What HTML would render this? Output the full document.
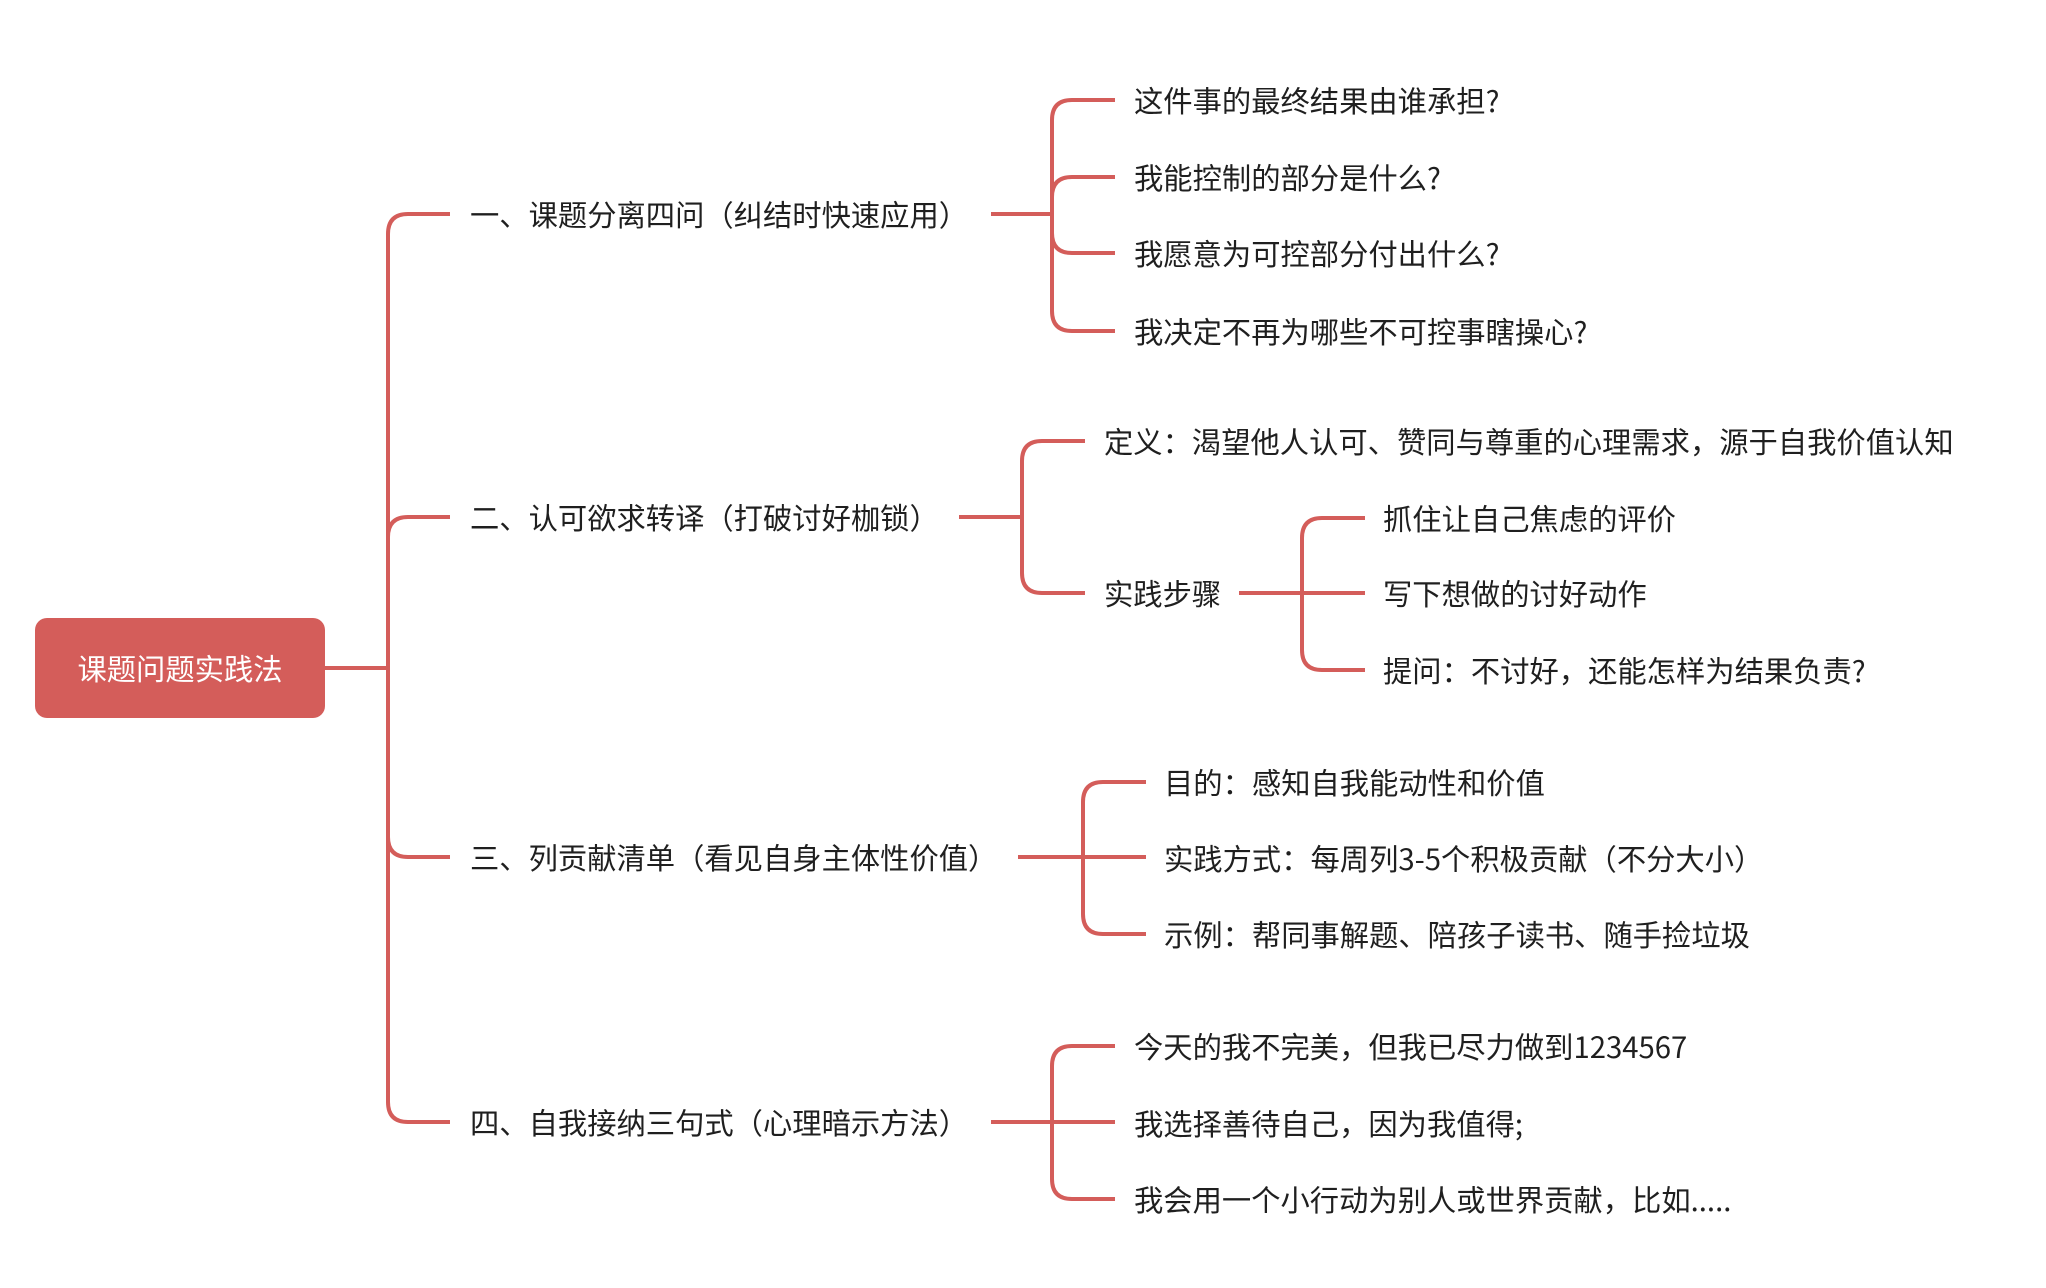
<!DOCTYPE html>
<html><head><meta charset="utf-8"><style>
html,body{margin:0;padding:0;background:#fff;width:2046px;height:1288px;overflow:hidden}
svg text{font-family:"Noto Sans CJK SC","Liberation Sans",sans-serif;font-size:29.3px;fill:#1f1f1f;dominant-baseline:central}
</style></head><body>
<svg width="2046" height="1288" viewBox="0 0 2046 1288" xmlns="http://www.w3.org/2000/svg">
<g transform="translate(-2,-1)">
<g fill="none" stroke="#d45d5a" stroke-width="4" stroke-linecap="butt">
<path d="M327 669 L390 669"/>
<path d="M390 669 L390 235 Q390 215 410 215 L452 215"/>
<path d="M390 669 L390 538 Q390 518 410 518 L452 518"/>
<path d="M390 669 L390 838 Q390 858 410 858 L452 858"/>
<path d="M390 669 L390 1103 Q390 1123 410 1123 L452 1123"/>
<path d="M993 215 L1054 215"/>
<path d="M1054 215 L1054 121 Q1054 101 1074 101 L1117 101"/>
<path d="M1054 215 L1054 198 Q1054 178 1074 178 L1117 178"/>
<path d="M1054 215 L1054 234 Q1054 254 1074 254 L1117 254"/>
<path d="M1054 215 L1054 312 Q1054 332 1074 332 L1117 332"/>
<path d="M961 518 L1024 518"/>
<path d="M1024 518 L1024 462 Q1024 442 1044 442 L1087 442"/>
<path d="M1024 518 L1024 574 Q1024 594 1044 594 L1087 594"/>
<path d="M1241 594 L1367 594"/>
<path d="M1304 594 L1304 539 Q1304 519 1324 519 L1367 519"/>
<path d="M1304 594 L1304 651 Q1304 671 1324 671 L1367 671"/>
<path d="M1020 858 L1148 858"/>
<path d="M1085 858 L1085 803 Q1085 783 1105 783 L1148 783"/>
<path d="M1085 858 L1085 915 Q1085 935 1105 935 L1148 935"/>
<path d="M993 1123 L1117 1123"/>
<path d="M1054 1123 L1054 1067 Q1054 1047 1074 1047 L1117 1047"/>
<path d="M1054 1123 L1054 1180 Q1054 1200 1074 1200 L1117 1200"/>
</g>
<rect x="37" y="619" width="290" height="100" rx="12" fill="#d45d5a"/>
<text x="182" y="669" text-anchor="middle" style="fill:#fff">课题问题实践法</text>
<text x="472" y="215">一、课题分离四问（纠结时快速应用）</text>
<text x="472" y="518">二、认可欲求转译（打破讨好枷锁）</text>
<text x="472" y="858">三、列贡献清单（看见自身主体性价值）</text>
<text x="472" y="1123">四、自我接纳三句式（心理暗示方法）</text>
<text x="1136" y="101">这件事的最终结果由谁承担?</text>
<text x="1136" y="178">我能控制的部分是什么?</text>
<text x="1136" y="254">我愿意为可控部分付出什么?</text>
<text x="1136" y="332">我决定不再为哪些不可控事瞎操心?</text>
<text x="1106" y="442">定义：渴望他人认可、赞同与尊重的心理需求，源于自我价值认知</text>
<text x="1106" y="594">实践步骤</text>
<text x="1385" y="519">抓住让自己焦虑的评价</text>
<text x="1385" y="594">写下想做的讨好动作</text>
<text x="1385" y="671">提问：不讨好，还能怎样为结果负责?</text>
<text x="1166" y="783">目的：感知自我能动性和价值</text>
<text x="1166" y="859">实践方式：每周列3-5个积极贡献（不分大小）</text>
<text x="1166" y="935">示例：帮同事解题、陪孩子读书、随手捡垃圾</text>
<text x="1136" y="1047">今天的我不完美，但我已尽力做到1234567</text>
<text x="1136" y="1124">我选择善待自己，因为我值得;</text>
<text x="1136" y="1200">我会用一个小行动为别人或世界贡献，比如.....</text>
</g>
</svg>
</body></html>
